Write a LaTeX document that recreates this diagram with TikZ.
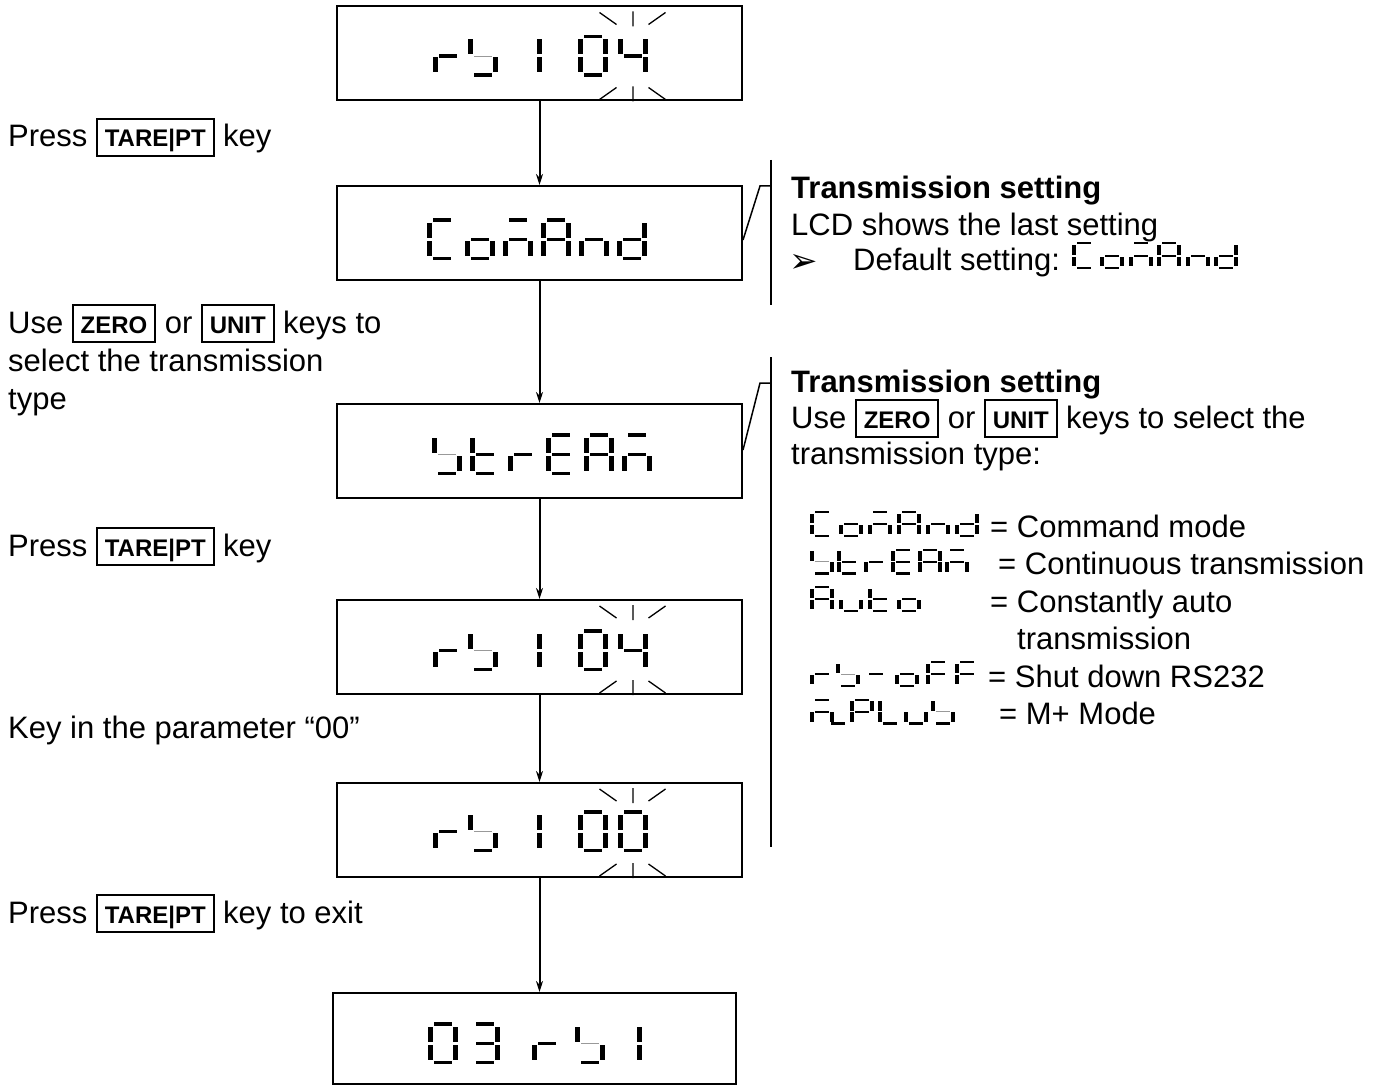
\documentclass[tikz,border=0pt]{standalone}
\usepackage{fontspec}
\setmainfont{Liberation Sans}
\newfontfamily\symfont{DejaVu Sans}
\usetikzlibrary{arrows.meta}
\usetikzlibrary{calc}

\tikzset{
  pics/sega/.style={code={\fill (6,0) rectangle (24,3.5);}},
  pics/segb/.style={code={\fill (25,4.5) rectangle (30,19.5);}},
  pics/segc/.style={code={\fill (25,22.5) rectangle (30,37.5);}},
  pics/segd/.style={code={\fill (6,38.5) rectangle (24,42);}},
  pics/sege/.style={code={\fill (0,22.5) rectangle (5,37.5);}},
  pics/segf/.style={code={\fill (0,4.5) rectangle (5,19.5);}},
  pics/segg/.style={code={\fill (6,19.5) rectangle (24,23);}},
  pics/segh/.style={code={\fill[black!40] (6,20.7) rectangle (24,21.7);}}
}

\newcommand{\newglyph}[2]{\expandafter\def\csname glyph#1\endcsname{#2}}
\newglyph{r}{e,g}
\newglyph{b}{f,h,c,d}
\newglyph{s}{f,h,c,d}
\newglyph{1}{b,c}
\newglyph{0}{a,b,c,d,e,f}
\newglyph{3}{a,b,g,c,d}
\newglyph{4}{f,g,b,c}
\newglyph{C}{a,f,e,d}
\newglyph{o}{g,e,c,d}
\newglyph{M}{a,g,e,c}
\newglyph{A}{a,b,c,e,f,g}
\newglyph{n}{g,e,c}
\newglyph{d}{b,c,d,e,g}
\newglyph{t}{f,e,g,d}
\newglyph{E}{a,f,g,e,d}
\newglyph{u}{e,c,d}
\newglyph{P}{a,b,f,g,e}
\newglyph{L}{f,e,d}
\newglyph{F}{a,f,g,e}
\newglyph{w}{d}
\newglyph{m}{g}

\newcommand{\lcdword}[3]{%
  \foreach \gx/\ch in {#3}{%
    \edef\seglist{\csname glyph\ch\endcsname}%
    \begin{scope}[shift={(\gx,#1)},#2]
      \foreach \s in \seglist {\pic[transform shape] {seg\s};}
    \end{scope}
  }}

\newcommand{\blinkmarks}[1]{%
  \begin{scope}[shift={(#1.north)}]
    \draw[blinkline] (60,7) -- (77,19) (93.5,6) -- (93.5,21) (109,19) -- (126,7);
  \end{scope}
  \begin{scope}[shift={(#1.south)}]
    \draw[blinkline] (60,-2) -- (77,-14) (93.5,-15) -- (93.5,0) (109,-14) -- (126,-2);
  \end{scope}}

\newcommand{\keycap}[1]{{\fboxsep=0pt\fboxrule=1.8pt\fbox{\rule[-8pt]{0pt}{35pt}\hspace{7pt}{\fontsize{24}{24}\selectfont\bfseries #1}\hspace{7pt}}}}

\begin{document}
\begin{tikzpicture}[x=1pt,y=-1pt,>={Stealth[length=11pt,width=7pt]},
  lcd/.style={draw,line width=2pt,minimum width=405pt,minimum height=94pt,inner sep=0pt},
  txt/.style={anchor=base west,inner sep=0pt,font=\fontsize{31}{38}\selectfont},
  head/.style={txt,font=\fontsize{31}{38}\selectfont\bfseries},
  flow/.style={line width=2pt,->},
  brk/.style={line width=1.5pt},
  blinkline/.style={line width=1.3pt}]
\useasboundingbox (0,0) rectangle (1391,1086);

\node[lcd] (lcdA) at (539.5,53.5) {};
\node[lcd] (lcdB) at (539.5,233) {};
\node[lcd] (lcdC) at (539.5,451) {};
\node[lcd] (lcdD) at (539.5,647) {};
\node[lcd] (lcdE) at (539.5,830) {};
\node[lcd,minimum width=403pt,minimum height=91pt] (lcdF) at (534.5,1038.5) {};

\lcdword{35}{}{433/r,468/b,512/1,578/0,618/4}
\lcdword{218}{}{427/C,465/o,503/M,541/A,579/n,617/d}
\lcdword{433}{}{432/s,470/t,508/r,546/E,584/A,622/M}
\lcdword{629}{}{433/r,468/b,512/1,578/0,618/4}
\lcdword{810}{}{433/r,468/b,512/1,578/0,618/0}
\lcdword{1022}{}{428/0,470/3,532/r,575/b,612/1}
\blinkmarks{lcdA}
\blinkmarks{lcdD}
\blinkmarks{lcdE}

\draw[flow] (lcdA) -- (lcdB);
\draw[flow] (lcdB) -- (lcdC);
\draw[flow] (lcdC) -- (lcdD);
\draw[flow] (lcdD) -- (lcdE);
\draw[flow] (lcdE.south) -- (lcdE.south |- lcdF.north);

\node[txt] (pressA) at (8,147) {Press \keycap{TARE|PT} key};
\node[txt] (useA) at (8,333) {Use \keycap{ZERO} or \keycap{UNIT} keys to};
\node[txt] (useB) at (8,371) {select the transmission};
\node[txt] (useC) at (8,409) {type};
\node[txt] (pressB) at (8,556) {Press \keycap{TARE|PT} key};
\node[txt] (keyin) at (8,738) {Key in the parameter “00”};
\node[txt] (pressC) at (8,923) {Press \keycap{TARE|PT} key to exit};

\coordinate (brkA) at (771,160);
\coordinate (brkB) at (771,357);
\draw[brk] (brkA) -- +(0,145);
\draw[brk] (brkA) ++(0,26) -- +(-11,0) -- ($(lcdB.east)+(0,7)$);
\draw[brk] (brkB) -- +(0,490);
\draw[brk] (brkB) ++(0,26) -- +(-11,0) -- ($(lcdC.east)+(0,-1)$);

\node[head] (setA) at (791,198) {Transmission setting};
\node[txt] (lastA) at (791,235) {LCD shows the last setting};
\node[txt,font=\symfont\fontsize{34}{34}\selectfont] (bulletA) at (789,272) {➢};
\node[txt] (defA) at (853,270) {Default setting:};
\lcdword{242}{xscale=0.8,yscale=0.65}{1072/C,1100/o,1129/M,1157/A,1186/n,1214/d}

\node[head] (setB) at (791,392) {Transmission setting};
\node[txt] (useD) at (791,428) {Use \keycap{ZERO} or \keycap{UNIT} keys to select the};
\node[txt] (typeD) at (791,464) {transmission type:};

\lcdword{511}{xscale=0.8,yscale=0.62}{810/C,839/o,868/M,897/A,926/n,955/d}
\lcdword{548.5}{xscale=0.8,yscale=0.62}{810/s,837/t,864/r,891/E,918/A,945/M}
\lcdword{586}{xscale=0.8,yscale=0.62}{810/A,839/u,868/t,897/o}
\lcdword{661}{xscale=0.8,yscale=0.62}{810/r,836/b,864/m,895/o,926/F,955/F}
\lcdword{698.5}{xscale=0.8,yscale=0.62}{810/M,826/w,850/P,878/L,904/u,931/b}

\node[txt] (legA) at (990,537) {= Command mode};
\node[txt] (legB) at (998,574.5) {= Continuous transmission};
\node[txt] (legC) at (990,612) {= Constantly auto};
\node[txt] (legCb) at (1017,649.5) {transmission};
\node[txt] (legD) at (988,687) {= Shut down RS232};
\node[txt] (legE) at (999,724.5) {= M+ Mode};
\end{tikzpicture}
\end{document}
